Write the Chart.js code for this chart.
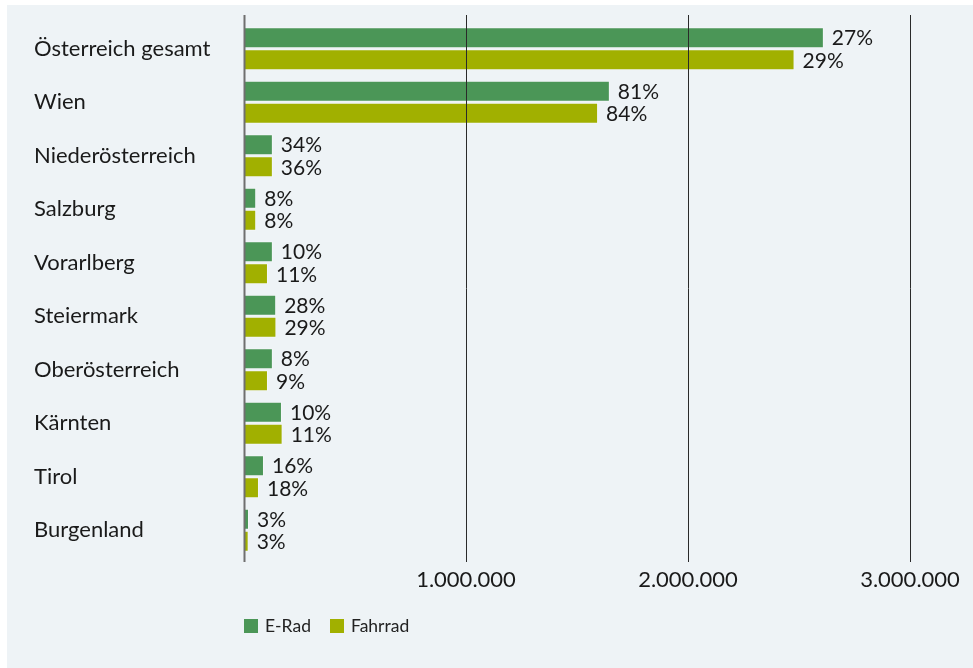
<!DOCTYPE html>
<html>
<head>
<meta charset="utf-8">
<script src="https://cdn.jsdelivr.net/npm/chart.js@4.4.1/dist/chart.umd.min.js"></script>
<style>
  body { margin: 0; background: #fff; font-family: Lato, sans-serif; }
  #panel { position: absolute; left: 7px; top: 5px; width: 966px; height: 663px; background: #eef3f6; }
  #wrap { position: absolute; left: 0; top: 0; width: 973px; height: 668px; }
  .leg { position: absolute; top: 612px; font-size: 17.5px; color: #222; line-height: 28px; }
  .leg span { display: inline-block; width: 14px; height: 14px; vertical-align: -1px; margin-right: 7px; }
</style>
</head>
<body>
<div id="panel"></div>
<div id="wrap"><canvas id="graph" width="973" height="668"></canvas></div>
<div class="leg" style="left:244px"><span style="background:#4b9657"></span>E-Rad</div>
<div class="leg" style="left:330px"><span style="background:#a1b000"></span>Fahrrad</div>
<script>
const categories = ['Österreich gesamt', 'Wien', 'Niederösterreich', 'Salzburg', 'Vorarlberg',
  'Steiermark', 'Oberösterreich', 'Kärnten', 'Tirol', 'Burgenland']
const eRad = [2612000, 1648000, 130000, 55000, 130000, 145000, 130000, 171000, 90000, 22500]
const fahrrad = [2480000, 1595000, 130000, 55000, 108000, 146000, 108000, 174000, 67500, 21000]
const eRadPct = ['27%', '81%', '34%', '8%', '10%', '28%', '8%', '10%', '16%', '3%']
const fahrradPct = ['29%', '84%', '36%', '8%', '11%', '29%', '9%', '11%', '18%', '3%']
const xTicks = [0, 1000000, 2000000, 3000000]

const fmt = v => String(v).replace(/\B(?=(\d{3})+(?!\d))/g, '.')

// gridlines over the bars, a bit longer than the plot area
const gridPlugin = {
  id: 'grid',
  afterDatasetsDraw(chart) {
    const ctx = chart.ctx, x = chart.scales.x, area = chart.chartArea
    ctx.save()
    xTicks.forEach(v => {
      const px = Math.round(x.getPixelForValue(v)) + 0.5
      ctx.strokeStyle = v === 0 ? '#6f6f6f' : '#2a2a2a'
      ctx.lineWidth = v === 0 ? 2 : 1
      ctx.beginPath()
      ctx.moveTo(px, area.top - 7)
      ctx.lineTo(px, area.bottom + 5)
      ctx.stroke()
    })
    ctx.restore()
  }
}

const labelPlugin = {
  id: 'pct',
  afterDatasetsDraw(chart) {
    const ctx = chart.ctx
    ctx.save()
    ctx.font = '21px Lato'
    ctx.fillStyle = '#1a1a1a'
    ctx.textAlign = 'left'
    ctx.textBaseline = 'middle'
    chart.data.datasets.forEach((ds, i) => {
      chart.getDatasetMeta(i).data.forEach((bar, j) => {
        ctx.fillText(ds.pct[j], bar.x + 8, bar.y + 1)
      })
    })
    ctx.restore()
  }
}

new Chart(document.querySelector('#graph'), {
  type: 'bar',
  data: {
    labels: categories,
    datasets: [
      { label: 'E-Rad', data: eRad, pct: eRadPct, backgroundColor: '#4b9657',
        borderColor: 'rgba(255,255,255,0.35)', borderWidth: 1 },
      { label: 'Fahrrad', data: fahrrad, pct: fahrradPct, backgroundColor: '#a1b000',
        borderColor: 'rgba(255,255,255,0.35)', borderWidth: 1 }
    ]
  },
  options: {
    indexAxis: 'y',
    responsive: false,
    animation: false,
    categoryPercentage: 0.824,
    barPercentage: 0.955,
    layout: { padding: { left: 34, top: 22, right: 63, bottom: 71 } },
    plugins: { legend: { display: false }, tooltip: { enabled: false } },
    scales: {
      x: {
        min: 0,
        max: 3000000,
        afterBuildTicks(scale) { scale.ticks = xTicks.map(v => ({ value: v })) },
        afterFit(scale) { scale.height = 40 },
        grid: { display: false, drawTicks: false },
        border: { display: false },
        ticks: { padding: 10, color: '#1a1a1a', font: { family: 'Lato', size: 22 },
          maxRotation: 0, callback: v => v === 0 ? '' : fmt(v) }
      },
      y: {
        afterFit(scale) { scale.width = 210 },
        grid: { display: false, drawTicks: false },
        border: { display: false },
        ticks: { crossAlign: 'far', color: '#1a1a1a', font: { family: 'Lato', size: 22 } }
      }
    }
  },
  plugins: [gridPlugin, labelPlugin]
})
</script>
</body>
</html>
